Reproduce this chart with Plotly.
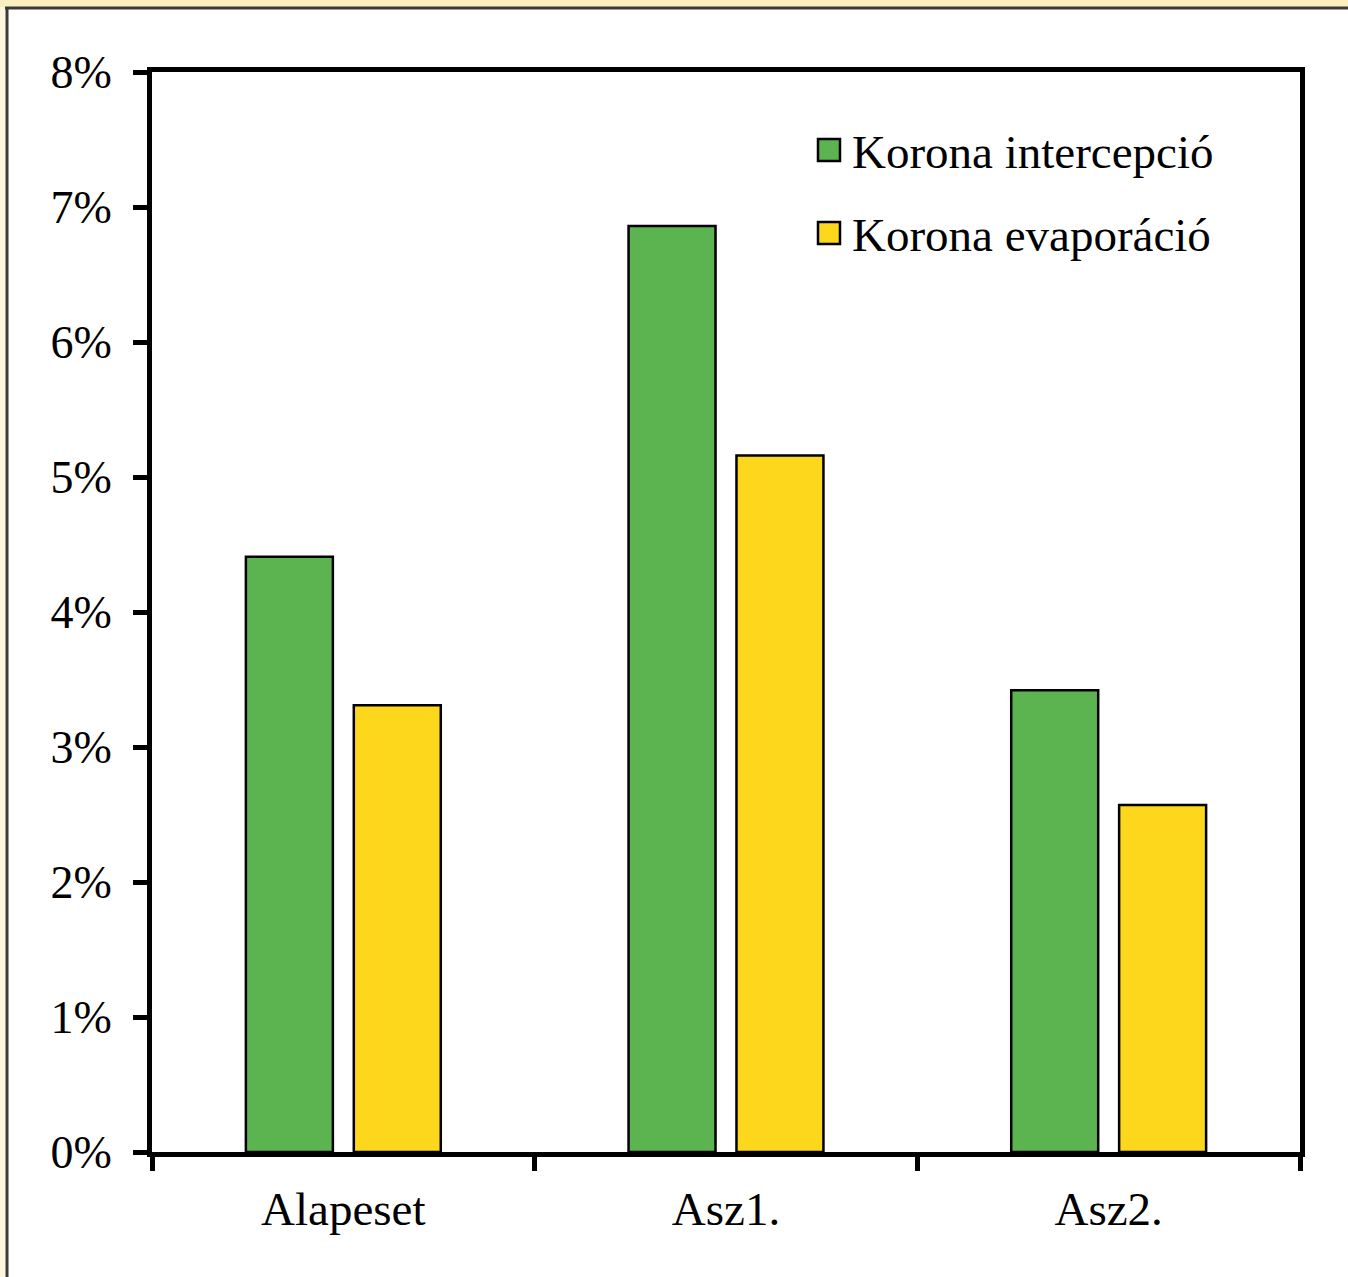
import plotly.graph_objects as go

# Scenario categories and the two canopy water-balance components (percent)
categories = ["Alapeset", "Asz1.", "Asz2."]
interception = [4.41, 6.86, 3.42]
evaporation = [3.31, 5.16, 2.57]
series_names = ["Korona intercepció", "Korona evaporáció"]
series_colors = ["#5BB450", "#FCD71B"]
y_ticks = [0, 1, 2, 3, 4, 5, 6, 7, 8]
y_tick_text = [f"{v}%" for v in y_ticks]

W, H = 1348, 1277
L, R, T, B = 152, 48, 72, 125
PW, PH = W - L - R, H - T - B


def px_x(p):
    return (p - L) / PW


def px_y(p):
    return (H - B - p) / PH


FONT = "Liberation Serif"

fig = go.Figure()
for name, vals, col in zip(series_names, [interception, evaporation], series_colors):
    fig.add_trace(go.Bar(
        x=categories, y=vals, name=name,
        marker=dict(color=col, line=dict(color="black", width=2.5)),
        showlegend=False,
    ))

shapes = []
annotations = []

# Pale yellow strip along the top and left edge, with the frame lines
shapes.append(dict(type="rect", xref="paper", yref="paper",
                   x0=px_x(0), x1=px_x(W), y0=px_y(7), y1=px_y(0),
                   fillcolor="#FBEFC0", line=dict(width=0), layer="below"))
shapes.append(dict(type="rect", xref="paper", yref="paper",
                   x0=px_x(0), x1=px_x(5), y0=px_y(H), y1=px_y(7),
                   fillcolor="#FDF6DC", line=dict(width=0), layer="below"))
shapes.append(dict(type="line", xref="paper", yref="paper",
                   x0=px_x(5), x1=px_x(W), y0=px_y(8), y1=px_y(8),
                   line=dict(color="#3a3a3a", width=3)))
shapes.append(dict(type="line", xref="paper", yref="paper",
                   x0=px_x(7), x1=px_x(7), y0=px_y(H), y1=px_y(8),
                   line=dict(color="#3a3a3a", width=3)))

# Legend drawn as boxed squares with labels
legend_rows = [150, 233]
for name, col, cy in zip(series_names, series_colors, legend_rows):
    shapes.append(dict(type="rect", xref="paper", yref="paper",
                       x0=px_x(818), x1=px_x(840), y0=px_y(cy + 11), y1=px_y(cy - 11),
                       fillcolor=col, line=dict(color="black", width=2.5)))
    annotations.append(dict(xref="paper", yref="paper", x=px_x(850), y=px_y(cy + 2),
                            xanchor="left", yanchor="middle", showarrow=False,
                            text=name, font=dict(family=FONT, size=47, color="black")))

fig.update_layout(
    width=W, height=H,
    margin=dict(l=L, r=R, t=T, b=B, pad=0),
    paper_bgcolor="white", plot_bgcolor="white",
    barmode="group", bargap=0.436, bargroupgap=0.194,
    font=dict(family=FONT, color="black"),
    shapes=shapes, annotations=annotations,
)
fig.update_xaxes(
    showline=True, linecolor="black", linewidth=5, mirror=True,
    ticks="outside", tickson="boundaries", ticklen=14, tickwidth=5, tickcolor="black",
    ticklabelstandoff=12,
    tickfont=dict(family=FONT, size=47, color="black"),
    showgrid=False, zeroline=False,
)
fig.update_yaxes(
    range=[0, 8], tickvals=y_ticks, ticktext=y_tick_text,
    showline=True, linecolor="black", linewidth=5, mirror=True,
    ticks="outside", ticklen=14, tickwidth=5, tickcolor="black",
    ticklabelstandoff=12,
    tickfont=dict(family=FONT, size=46, color="black"),
    showgrid=False, zeroline=False,
)

fig.write_html("out.html")
